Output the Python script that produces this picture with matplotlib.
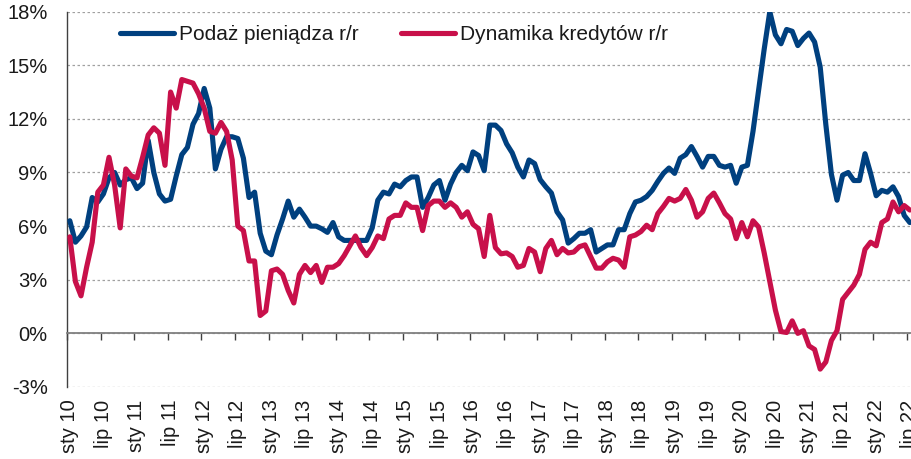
import matplotlib
matplotlib.use("Agg")
import matplotlib.pyplot as plt
import numpy as np
from matplotlib.ticker import FuncFormatter

# --- data (monthly, sty 2010 - lip 2022, % r/r) ---

podaz = [
    6.3, 5.1, 5.45, 5.95, 7.6, 7.35, 7.8, 8.7, 9.0, 8.3, 8.6, 8.7,          # 2010
    8.1, 8.4, 10.8, 9.0, 7.8, 7.4, 7.5, 8.8, 10.0, 10.4, 11.7, 12.3,        # 2011
    13.7, 12.6, 9.2, 10.3, 11.0, 11.0, 10.9, 9.8, 7.6, 7.9, 5.6, 4.6,       # 2012
    4.4, 5.5, 6.4, 7.4, 6.5, 6.95, 6.5, 6.0, 6.0, 5.85, 5.65, 6.2,          # 2013
    5.4, 5.2, 5.2, 5.2, 5.2, 5.2, 5.9, 7.45, 7.9, 7.8, 8.35, 8.2,           # 2014
    8.55, 8.75, 8.75, 7.05, 7.6, 8.3, 8.55, 7.45, 8.35, 9.0, 9.4, 9.1,      # 2015
    10.15, 9.95, 9.1, 11.65, 11.65, 11.35, 10.6, 10.1, 9.3, 8.75, 9.7, 9.5, # 2016
    8.6, 8.2, 7.85, 6.8, 6.35, 5.05, 5.3, 5.6, 5.6, 5.8, 4.55, 4.75,        # 2017
    4.95, 4.95, 5.8, 5.8, 6.7, 7.35, 7.45, 7.65, 8.0, 8.5, 8.95, 9.25,      # 2018
    8.95, 9.8, 10.0, 10.45, 9.9, 9.3, 9.9, 9.9, 9.4, 9.3, 9.4, 8.4,         # 2019
    9.3, 9.4, 11.3, 13.6, 15.9, 18.0, 16.7, 16.2, 17.0, 16.9, 16.1, 16.5,   # 2020
    16.8, 16.3, 14.9, 11.7, 8.9, 7.45, 8.85, 9.0, 8.55, 8.55, 10.05, 8.95,  # 2021
    7.7, 8.0, 7.9, 8.2, 7.65, 6.6, 6.2,                                     # 2022
]

kredyty = [
    5.4, 2.9, 2.1, 3.7, 5.1, 7.9, 8.3, 9.85, 8.3, 5.9, 9.2, 8.8,            # 2010
    8.7, 9.85, 11.1, 11.5, 11.2, 9.4, 13.5, 12.6, 14.2, 14.1, 14.0, 13.4,   # 2011
    12.6, 11.3, 11.2, 11.8, 11.3, 9.7, 6.0, 5.75, 4.05, 4.05, 1.0, 1.25,    # 2012
    3.5, 3.6, 3.3, 2.4, 1.7, 3.3, 3.8, 3.4, 3.8, 2.85, 3.7, 3.7,            # 2013
    3.9, 4.35, 4.9, 5.45, 4.8, 4.35, 4.8, 5.45, 5.3, 6.4, 6.6, 6.6,         # 2014
    7.3, 7.05, 7.05, 5.75, 7.15, 7.4, 7.4, 7.05, 7.3, 7.05, 6.5, 6.8,       # 2015
    6.1, 5.85, 4.3, 6.6, 4.8, 4.45, 4.5, 4.3, 3.7, 3.8, 4.75, 4.55,         # 2016
    3.45, 4.75, 5.2, 4.4, 4.75, 4.5, 4.55, 4.85, 4.95, 4.3, 3.65, 3.65,     # 2017
    4.0, 4.2, 4.1, 3.7, 5.4, 5.5, 5.7, 6.05, 5.8, 6.7, 7.1, 7.55,           # 2018
    7.4, 7.55, 8.05, 7.45, 6.5, 6.8, 7.55, 7.85, 7.3, 6.7, 6.4, 5.3,        # 2019
    6.2, 5.4, 6.3, 5.95, 4.5, 2.9, 1.3, 0.1, 0.05, 0.7, 0.0, 0.15,          # 2020
    -0.7, -0.9, -2.0, -1.6, -0.4, 0.15, 1.9, 2.3, 2.7, 3.3, 4.7, 5.1,       # 2021
    4.9, 6.2, 6.4, 7.35, 6.8, 7.15, 6.9,                                    # 2022
]

tick_labels = [
    "sty 10", "lip 10", "sty 11", "lip 11", "sty 12", "lip 12", "sty 13",
    "lip 13", "sty 14", "lip 14", "sty 15", "lip 15", "sty 16", "lip 16",
    "sty 17", "lip 17", "sty 18", "lip 18", "sty 19", "lip 19", "sty 20",
    "lip 20", "sty 21", "lip 21", "sty 22", "lip 22",
]

series_names = ["Podaż pieniądza r/r", "Dynamika kredytów r/r"]

BLUE = "#00407f"
RED = "#c8104a"
TXT = "#1a1a1a"

plt.rcParams["font.family"] = ["Liberation Sans", "DejaVu Sans"]

x = np.arange(len(podaz))

fig = plt.figure(figsize=(9.12, 4.59), dpi=100)
ax = fig.add_axes([67 / 912, 72 / 459, 845.6 / 912, 375.4 / 459])

ax.plot(x, podaz, color=BLUE, lw=3.7, solid_joinstyle="round",
        solid_capstyle="round", label=series_names[0], zorder=3)
ax.plot(x, kredyty, color=RED, lw=3.7, solid_joinstyle="round",
        solid_capstyle="round", label=series_names[1], zorder=4)

ax.set_xlim(-0.5, len(x) - 0.5)
ax.set_ylim(-3, 18)
ax.set_yticks(np.arange(-3, 19, 3))
ax.yaxis.set_major_formatter(FuncFormatter(lambda v, p: f"{v:.0f}%"))
ax.tick_params(axis="y", length=0, pad=14, labelsize=14.5, labelcolor=TXT)

ax.grid(axis="y", linestyle=(0, (2, 2)), color="#a0a0a0", lw=0.9)
ax.set_axisbelow(True)

for s in ["top", "right"]:
    ax.spines[s].set_visible(False)
ax.spines["left"].set_color("#404040")
ax.spines["left"].set_linewidth(1.0)
ax.spines["bottom"].set_position(("data", 0))
ax.spines["bottom"].set_color("#808080")
ax.spines["bottom"].set_linewidth(1.3)

# tick marks between categories on the 0% line
ax.set_xticks(np.arange(-0.5, len(x), 6))
ax.tick_params(axis="x", length=5, width=1, color="#404040",
               direction="out", labelbottom=False)

# labels at the bottom of the plot
sec = ax.secondary_xaxis("bottom")
sec.set_xticks(np.arange(0, len(x), 6), labels=tick_labels, rotation=90)
sec.tick_params(length=0, pad=9, labelsize=14.5, labelcolor=TXT)
sec.spines["bottom"].set_visible(False)

leg = ax.legend(loc="center left", bbox_to_anchor=(53 / 845.6, (387 - 35) / 375.4),
                ncol=2, frameon=False, fontsize=15, handlelength=2.6,
                handletextpad=0.25, columnspacing=2.0, borderpad=0,
                borderaxespad=0)
for t in leg.get_texts():
    t.set_color(TXT)

fig.savefig("out.png", dpi=100)
